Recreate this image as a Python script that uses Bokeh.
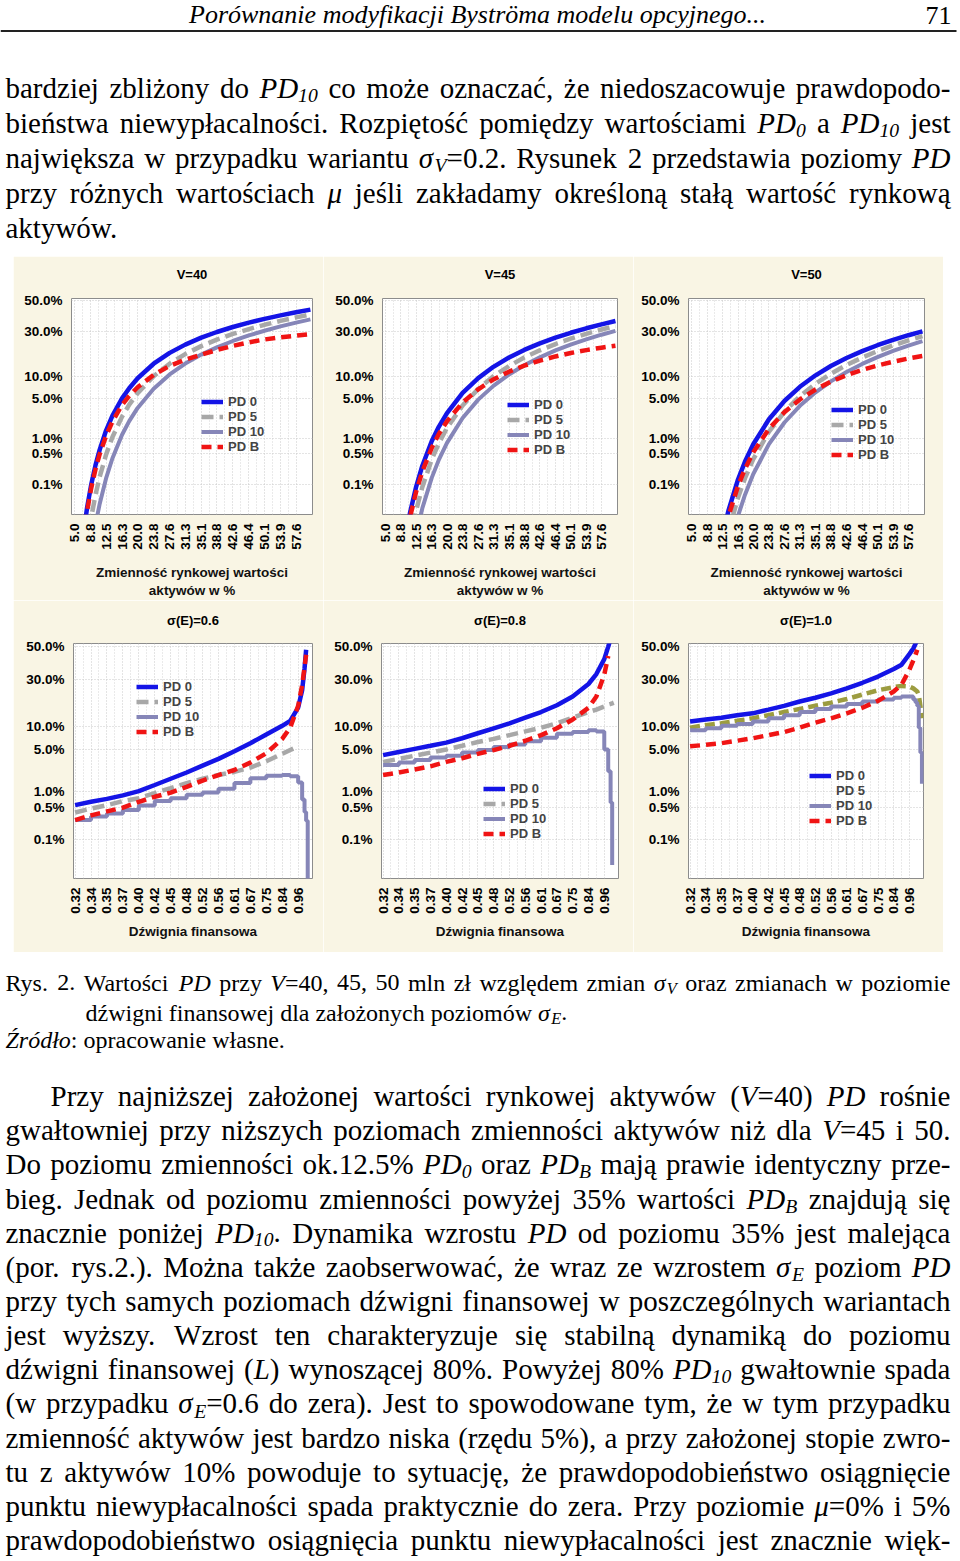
import math
import re
from statistics import NormalDist

from bokeh.plotting import figure
from bokeh.layouts import column, row
from bokeh.models import Range1d, FixedTicker, Legend, LegendItem, Spacer, LinearAxis
from bokeh.embed import file_html
from bokeh.resources import INLINE
from bokeh.core.properties import value

# ------------------------------------------------------------------ data
# upper panels: PD (%) versus asset volatility (%)
vol = [7, 8, 9, 10, 11, 12.5, 14, 16.3, 18, 20, 23.8, 27.6, 31.3, 35.1, 38.8,
       42.6, 46.4, 50.1, 53.9, 57.6, 61]
vol_ticks = [5.0, 8.8, 12.5, 16.3, 20.0, 23.8, 27.6, 31.3, 35.1, 38.8, 42.6,
             46.4, 50.1, 53.9, 57.6]
vol_tick_labels = ["5.0", "8.8", "12.5", "16.3", "20.0", "23.8", "27.6", "31.3",
                   "35.1", "38.8", "42.6", "46.4", "50.1", "53.9", "57.6"]

pd0_v40 = [0.0033, 0.0246, 0.10, 0.28, 0.605, 1.43, 2.60, 4.96, 6.98, 9.51, 14.32,
           18.84, 22.81, 26.50, 29.70, 32.67, 35.35, 37.75, 39.97, 42.0, 43.76]
pd5_v40 = [0.0001, 0.002, 0.0134, 0.054, 0.152, 0.474, 1.07, 2.53, 3.97, 5.94, 10.10,
           14.34, 18.30, 22.06, 25.40, 28.57, 31.44, 34.02, 36.45, 38.67, 40.55]
pd10_v40 = [0.00001, 0.0001, 0.0013, 0.0082, 0.0316, 0.138, 0.392, 1.19, 2.11, 3.52,
            6.86, 10.64, 14.37, 18.06, 21.45, 24.70, 27.73, 30.43, 33.03, 35.38, 37.41]
pdb_v40 = [0.0027, 0.020, 0.082, 0.227, 0.49, 1.13, 2.07, 3.93, 5.40, 7.20, 10.5,
           13.5, 15.9, 18.0, 20.2, 22.2, 24.0, 25.5, 26.7, 27.6, 28.4]

pd0_v45 = [0.00001, 0.00004, 0.0006, 0.0041, 0.0177, 0.0874, 0.272, 0.90, 1.67, 2.90,
           5.97, 9.55, 13.18, 16.83, 20.21, 23.45, 26.50, 29.25, 31.89, 34.29, 36.35]
pd5_v45 = [0.00001, 0.00001, 0.00004, 0.00045, 0.0028, 0.0208, 0.0854, 0.376, 0.81,
           1.60, 3.85, 6.82, 10.06, 13.48, 16.78, 20.02, 23.09, 25.92, 28.66, 31.15, 33.32]
pd10_v45 = [0.00001, 0.00001, 0.00001, 0.00004, 0.00037, 0.0042, 0.0238, 0.144, 0.366,
            0.83, 2.40, 4.75, 7.52, 10.64, 13.74, 16.90, 19.96, 22.80, 25.58, 28.15, 30.40]
pdb_v45 = [0.00001, 0.00003, 0.0004, 0.0031, 0.0133, 0.0653, 0.202, 0.66, 1.23, 2.11,
           4.28, 6.73, 9.16, 11.51, 13.61, 15.55, 17.27, 18.77, 20.12, 21.29, 22.24]

pd0_v50 = [0.00001, 0.00001, 0.00001, 0.00002, 0.0003, 0.0036, 0.0208, 0.130, 0.336,
           0.776, 2.28, 4.57, 7.30, 10.37, 13.46, 16.60, 19.65, 22.50, 25.29, 27.86, 30.11]
pd5_v50 = [0.00001, 0.00001, 0.00001, 0.00001, 0.00002, 0.0006, 0.0051, 0.0454, 0.140,
           0.379, 1.36, 3.08, 5.33, 8.04, 10.86, 13.84, 16.80, 19.62, 22.41, 25.02, 27.32]
pd10_v50 = [0.00001, 0.00001, 0.00001, 0.00001, 0.00001, 0.0001, 0.0011, 0.0145, 0.0545,
            0.175, 0.78, 2.02, 3.81, 6.11, 8.65, 11.41, 14.24, 16.98, 19.74, 22.34, 24.67]
pdb_v50 = [0.00001, 0.00001, 0.00001, 0.00001, 0.0002, 0.0025, 0.0145, 0.090, 0.231,
           0.53, 1.54, 3.03, 4.79, 6.69, 8.55, 10.39, 12.11, 13.65, 15.10, 16.39, 17.46]

# lower panels: PD (%) versus financial leverage (category position)
lev_ticks = ["0.32", "0.34", "0.35", "0.37", "0.40", "0.42", "0.45", "0.48", "0.52",
             "0.56", "0.61", "0.67", "0.75", "0.84", "0.96"]
lev_pos = [0, 1, 2, 3, 4, 5, 6, 7, 8, 9, 10, 11, 12, 13, 13.5, 14, 14.25, 14.4, 14.5,
           14.6, 14.7, 14.8]

pd0_e06 = [0.55, 0.64, 0.73, 0.85, 1.02, 1.32, 1.70, 2.17, 2.81, 3.59, 4.65, 6.06, 7.93,
           10.2, 11.7, 16.4, 24.2, 36.3, 48.0, None, None, None]
pd5_e06 = [0.39, 0.47, 0.55, 0.66, 0.75, 0.94, 1.16, 1.43, 1.70, 1.97, 2.22, 2.62, 3.29,
           4.27, 4.85, 5.48, None, None, None, None, None, None]
pd10_e06 = [0.27, 0.32, 0.37, 0.44, 0.54, 0.66, 0.75, 0.87, 0.96, 1.13, 1.43, 1.74, 1.92,
            1.97, 1.88, 1.46, 0.71, 0.40, 0.26, 0.003, None, None]
pdb_e06 = [0.27, 0.34, 0.41, 0.49, 0.64, 0.80, 0.96, 1.22, 1.58, 1.97, 2.39, 3.14, 4.36,
           6.94, 9.68, 17.1, 26.8, 37.0, 44.8, None, None, None]

pd0_e08 = [4.09, 4.55, 5.05, 5.59, 6.18, 7.08, 8.23, 9.51, 10.93, 12.71, 14.69, 17.36,
           21.19, 27.43, 33.0, 42.07, 50.0, 55.0, None, None, None, None]
pd5_e08 = [3.22, 3.59, 4.01, 4.46, 4.95, 5.59, 6.30, 6.94, 7.78, 8.69, 9.68, 10.93, 12.71,
           14.69, 15.62, 16.85, 17.62, 17.9, 18.14, 18.41, None, None]
pd10_e08 = [2.87, 3.14, 3.44, 3.75, 4.01, 4.46, 4.85, 5.37, 5.82, 6.43, 7.21, 8.08, 8.53,
            9.01, 8.69, 4.95, 2.28, 0.62, 0.023, None, None, None]
pdb_e08 = [1.97, 2.17, 2.44, 2.74, 3.22, 3.67, 4.27, 4.85, 5.59, 6.55, 7.78, 9.51, 12.1,
           16.35, 21.19, 32.64, 44.0, None, None, None, None, None]

pd0_e10 = [11.51, 12.1, 12.71, 13.57, 14.23, 15.62, 17.11, 18.94, 20.61, 22.66, 25.14,
           28.1, 31.56, 35.94, 38.59, 45.2, 48.8, 52.0, 54.0, None, None, None]
pd5_e10 = [9.68, 10.38, 10.93, 11.7, 12.51, 13.57, 14.69, 15.87, 17.11, 18.41, 20.05,
           22.06, 24.2, 25.78, 26.43, 26.11, 25.14, 24.2, 23.58, 21.8, 17.1, 12.5]
pd10_e10 = [9.01, 9.51, 10.2, 10.75, 11.51, 12.51, 13.57, 14.69, 15.87, 16.85, 17.88,
            18.94, 19.77, 20.61, 21.19, 21.19, 19.77, 18.5, 17.11, 9.68, 4.46, 1.39]
pdb_e10 = [5.48, 5.76, 6.06, 6.55, 7.08, 7.78, 8.53, 9.68, 11.12, 12.51, 14.23, 16.35,
           19.22, 23.58, 27.09, 35.57, 41.3, 45.0, 48.0, None, None, None]

y_tick_pct = [0.1, 0.5, 1.0, 5.0, 10.0, 30.0, 50.0]
y_tick_labels = ["0.1%", "0.5%", "1.0%", "5.0%", "10.0%", "30.0%", "50.0%"]
series_names = ["PD 0", "PD 5", "PD 10", "PD B"]

# ------------------------------------------------------------------ text
header_title = "Porównanie modyfikacji Byströma modelu opcyjnego..."
page_number = "71"
para1 = [
    "bardziej zbliżony do *PD*_10_ co może oznaczać, że niedoszacowuje prawdopodo-",
    "bieństwa niewypłacalności. Rozpiętość pomiędzy wartościami *PD*_0_ a *PD*_10_ jest",
    "największa w przypadku wariantu *σ*_V_=0.2. Rysunek 2 przedstawia poziomy *PD*",
    "przy różnych wartościach *μ* jeśli zakładamy określoną stałą wartość rynkową",
    "aktywów.",
]
caption = [
    "Rys. 2. Wartości *PD* przy *V*=40, 45, 50 mln zł względem zmian *σ*_V_ oraz zmianach w poziomie",
    "dźwigni finansowej dla założonych poziomów *σ*_E_.",
    "*Źródło*: opracowanie własne.",
]
para2 = [
    "Przy najniższej założonej wartości rynkowej aktywów (*V*=40) *PD* rośnie",
    "gwałtowniej przy niższych poziomach zmienności aktywów niż dla *V*=45 i 50.",
    "Do poziomu zmienności ok.12.5% *PD*_0_ oraz *PD*_B_ mają prawie identyczny prze-",
    "bieg. Jednak od poziomu zmienności powyżej 35% wartości *PD*_B_ znajdują się",
    "znacznie poniżej *PD*_10_. Dynamika wzrostu *PD* od poziomu 35% jest malejąca",
    "(por. rys.2.). Można także zaobserwować, że wraz ze wzrostem *σ*_E_ poziom *PD*",
    "przy tych samych poziomach dźwigni finansowej w poszczególnych wariantach",
    "jest wyższy. Wzrost ten charakteryzuje się stabilną dynamiką do poziomu",
    "dźwigni finansowej (*L*) wynoszącej 80%. Powyżej 80% *PD*_10_ gwałtownie spada",
    "(w przypadku *σ*_E_=0.6 do zera). Jest to spowodowane tym, że w tym przypadku",
    "zmienność aktywów jest bardzo niska (rzędu 5%), a przy założonej stopie zwro-",
    "tu z aktywów 10% powoduje to sytuację, że prawdopodobieństwo osiągnięcie",
    "punktu niewypłacalności spada praktycznie do zera. Przy poziomie *μ*=0% i 5%",
    "prawdopodobieństwo osiągnięcia punktu niewypłacalności jest znacznie więk-",
]

# ------------------------------------------------------------------ styles
BEIGE = "#f9f5e4"
BLUE = "#1414e6"
GRAY = "#a8a8a8"
LAV = "#8686b8"
RED = "#f01414"
OLIVE = "#9c9c40"
SANS = "Liberation Sans"
SERIF = "Liberation Serif"
BASE_K = 0.36   # renderer places "alphabetic" text this many em lower; compensate

ND = NormalDist()


def probit(vals):
    return [ND.inv_cdf(v / 100.0) if v is not None else float("nan") for v in vals]


def make_panel(title, xs, series, lower, geom, legend_xy, olive=False):
    w, bl, br = geom
    if lower:
        h, bt, bb = 352, 43, 74
        xr, yr = Range1d(-0.1, 14.9), Range1d(-3.72, 0.05)
    else:
        h, bt, bb = 344, 42, 82
        xr, yr = Range1d(4.3, 61.5), Range1d(-3.6, 0.03)
    p = figure(width=w, height=h, x_range=xr, y_range=yr, toolbar_location=None,
               title_location=None,
               output_backend="svg", min_border_left=bl, min_border_right=br,
               min_border_top=bt, min_border_bottom=bb,
               background_fill_color="white", border_fill_color=BEIGE)
    p.outline_line_color = "#8c8c8c"
    p.outline_line_width = 1

    # panel title as the label of an empty axis above the frame
    tax = LinearAxis(axis_label=title, ticker=FixedTicker(ticks=[]),
                     axis_line_color=None, major_tick_line_color=None,
                     minor_tick_line_color=None, major_tick_out=0, minor_tick_out=0,
                     major_label_standoff=0, major_label_text_font_size="0px",
                     axis_label_standoff=16 if lower else 17,
                     axis_label_text_font=SANS, axis_label_text_font_size="13px",
                     axis_label_text_font_style="bold", axis_label_text_color="black")
    p.add_layout(tax, "above")

    # y axis (normal-probability scale)
    yt = [ND.inv_cdf(v / 100.0) for v in y_tick_pct]
    xax = p.below[0]
    yax = p.left[0]
    yax.ticker = FixedTicker(ticks=yt)
    yax.major_label_overrides = {t: l for t, l in zip(yt, y_tick_labels)}
    # x axis
    if lower:
        xt = list(range(len(lev_ticks)))
        xl = lev_ticks
        xax.axis_label = "Dźwignia finansowa"
    else:
        xt = vol_ticks
        xl = vol_tick_labels
        xax.axis_label = "Zmienność rynkowej wartości\naktywów w %"
    minor = [(a + b) / 2.0 for a, b in zip(xt[:-1], xt[1:])]
    xax.ticker = FixedTicker(ticks=xt, minor_ticks=minor)
    xax.major_label_overrides = {t: l for t, l in zip(xt, xl)}
    xax.major_label_orientation = math.pi / 2

    for ax in (xax, yax):
        ax.axis_line_color = None
        ax.major_tick_line_color = None
        ax.minor_tick_line_color = None
        ax.major_label_text_font = SANS
        ax.major_label_text_font_style = "bold"
        ax.major_label_text_color = "black"
    yax.major_label_text_font_size = "13.5px"
    yax.major_label_standoff = 3
    xax.major_label_text_font_size = "13.5px"
    xax.major_label_standoff = 3
    xax.axis_label_text_font = SANS
    xax.axis_label_text_font_size = "13.5px"
    xax.axis_label_text_font_style = "bold"
    xax.axis_label_text_color = "#111111"
    xax.axis_label_standoff = 7 if lower else 12

    # grid
    p.xgrid.grid_line_color = "#c8c8c8"
    p.xgrid.grid_line_dash = "1 2"
    p.xgrid.minor_grid_line_color = "#d4d4d4"
    p.xgrid.minor_grid_line_dash = "1 2"
    p.xgrid.ticker = xax.ticker
    p.ygrid.grid_line_color = "#c8c8c8"
    p.ygrid.grid_line_dash = "1 2"
    p.ygrid.ticker = yax.ticker

    p0, p5, p10, pb = series
    r0 = p.line(xs, probit(p0), line_color=BLUE, line_width=4.5)
    if olive:
        r5 = p.line(xs, probit(p5), line_color=OLIVE, line_width=4.5, line_dash="10 5")
        r5_leg = p.line([], [], line_color="#cfcfcf", line_width=1.5)
    else:
        r5 = p.line(xs, probit(p5), line_color=GRAY, line_width=4.5, line_dash="12 6")
        r5_leg = r5
    if lower:
        r10 = p.step(xs, probit(p10), mode="after", line_color=LAV, line_width=4)
    else:
        r10 = p.line(xs, probit(p10), line_color=LAV, line_width=4)
    rb = p.line(xs, probit(pb), line_color=RED, line_width=4.5, line_dash="10 6")

    legend = Legend(items=[LegendItem(label=n, renderers=[r])
                           for n, r in zip(series_names, [r0, r5_leg, r10, rb])],
                    location=legend_xy, orientation="vertical",
                    background_fill_alpha=0, border_line_color=None,
                    label_text_font=SANS, label_text_font_style="bold",
                    label_text_font_size="13px", glyph_width=22, glyph_height=15,
                    label_height=15, label_standoff=5, spacing=0, padding=0, margin=0)
    p.add_layout(legend)
    return p


# ------------------------------------------------------------------ text helpers
RW = {" ": 250, ".": 250, ",": 250, ":": 278, ";": 278, "-": 333, "(": 333, ")": 333,
      "%": 833, "=": 564, "'": 180, "σ": 549, "μ": 500}
IW = dict(RW)
IW.update({"=": 675, ":": 333})
for c in "0123456789":
    RW[c] = 500
    IW[c] = 500
RW.update(dict(zip("abcdefghijklmnopqrstuvwxyz",
                   [444, 500, 444, 500, 444, 333, 500, 500, 278, 278, 500, 278, 778,
                    500, 500, 500, 500, 333, 389, 278, 500, 500, 722, 500, 500, 444])))
RW.update(dict(zip("ABCDEFGHIJKLMNOPQRSTUVWXYZ",
                   [722, 667, 667, 722, 611, 556, 722, 722, 333, 389, 722, 611, 889,
                    722, 722, 556, 722, 667, 556, 611, 722, 722, 944, 722, 722, 611])))
IW.update(dict(zip("abcdefghijklmnopqrstuvwxyz",
                   [500, 500, 444, 500, 444, 278, 500, 500, 278, 278, 444, 278, 722,
                    500, 500, 500, 500, 389, 389, 278, 500, 444, 667, 444, 444, 389])))
IW.update(dict(zip("ABCDEFGHIJKLMNOPQRSTUVWXYZ",
                   [611, 611, 667, 722, 611, 611, 722, 722, 333, 444, 667, 556, 833,
                    667, 722, 611, 722, 611, 500, 556, 722, 611, 833, 611, 556, 556])))
ACC = {"ą": "a", "ć": "c", "ę": "e", "ń": "n", "ó": "o", "ś": "s", "ź": "z", "ż": "z",
       "Ź": "Z", "Ż": "Z", "Ś": "S", "ö": "o"}
for k, b in ACC.items():
    RW[k] = RW[b]
    IW[k] = IW[b]
RW["ł"] = 278
IW["ł"] = 278
SUB = 0.68


def parse(word):
    segs = []
    for m in re.finditer(r"\*([^*]+)\*|_([^_]+)_|([^*_]+)", word):
        if m.group(1):
            segs.append((m.group(1), "i"))
        elif m.group(2):
            segs.append((m.group(2), "s"))
        else:
            segs.append((m.group(3), "n"))
    return segs


def seg_w(t, s, size):
    tab = IW if s in ("i", "s") else RW
    fs = size * SUB if s == "s" else size
    return sum(tab.get(ch, 500) for ch in t) * fs / 1000.0


def draw_lines(p, lines, size):
    acc = {"n": ([], [], []), "i": ([], [], []), "s": ([], [], [])}
    for txt, yb, x0, x1, just in lines:
        words = [parse(w) for w in txt.split(" ")]
        ws = [sum(seg_w(t, s, size) for t, s in w) for w in words]
        if just and len(words) > 1:
            gap = (x1 - x0 - sum(ws)) / (len(words) - 1)
        else:
            gap = 0.25 * size
        x = x0
        for w, wd in zip(words, ws):
            xx = x
            for t, s in w:
                a = acc[s]
                fs = size * SUB if s == "s" else size
                a[0].append(xx)
                a[1].append(yb + (0.13 * size if s == "s" else 0) - BASE_K * fs)
                a[2].append(t)
                xx += seg_w(t, s, size)
            x += wd + gap
    for s, (xs, ys, ts) in acc.items():
        if not ts:
            continue
        fs = size * SUB if s == "s" else size
        p.text(x=xs, y=ys, text=ts, text_font=value(SERIF),
               text_font_size=value(f"{fs:.1f}px"),
               text_font_style="normal" if s == "n" else "italic",
               text_align="left", text_baseline="alphabetic", text_color="black")


def text_fig(y0, y1):
    f = figure(width=960, height=int(y1 - y0), x_range=Range1d(0, 960),
               y_range=Range1d(y1, y0), toolbar_location=None, output_backend="svg",
               title_location=None,
               x_axis_type=None, y_axis_type=None, min_border=0)
    f.outline_line_color = None
    f.grid.visible = False
    return f


# ------------------------------------------------------------------ top text
top = text_fig(0, 256)
top.text(x=[477], y=[23.5 - BASE_K * 26], text=[header_title], text_font=value(SERIF),
         text_font_size=value("26px"), text_font_style="italic",
         text_align="center", text_baseline="alphabetic", text_color="black")
top.text(x=[951], y=[24 - BASE_K * 26], text=[page_number], text_font=value(SERIF),
         text_font_size=value("26px"), text_align="right", text_baseline="alphabetic",
         text_color="black")
top.segment(x0=[0], y0=[30.5], x1=[956], y1=[30.5], line_color="#222222", line_width=2)
lines1 = []
for i, t in enumerate(para1):
    lines1.append((t, 98 + 35 * i, 5, 950, i < len(para1) - 1))
draw_lines(top, lines1, 29)

# ------------------------------------------------------------------ chart grid
upper_geom = [(310, 58, 11), (310, 59, 16), (310, 55, 19)]
lower_geom = [(310, 60, 11), (310, 58, 15), (310, 55, 20)]

f1 = make_panel("V=40", vol, [pd0_v40, pd5_v40, pd10_v40, pdb_v40], False, upper_geom[0], (130, 60))
f2 = make_panel("V=45", vol, [pd0_v45, pd5_v45, pd10_v45, pdb_v45], False, upper_geom[1], (125, 57))
f3 = make_panel("V=50", vol, [pd0_v50, pd5_v50, pd10_v50, pdb_v50], False, upper_geom[2], (143, 52))
f4 = make_panel("σ(E)=0.6", lev_pos, [pd0_e06, pd5_e06, pd10_e06, pdb_e06], True, lower_geom[0], (63, 139))
f5 = make_panel("σ(E)=0.8", lev_pos, [pd0_e08, pd5_e08, pd10_e08, pdb_e08], True, lower_geom[1], (102, 37))
f6 = make_panel("σ(E)=1.0", lev_pos, [pd0_e10, pd5_e10, pd10_e10, pdb_e10], True, lower_geom[2], (121, 50), olive=True)

charts = column(row(f1, f2, f3), row(f4, f5, f6))
chart_row = row(Spacer(width=13, height=696), charts)

# ------------------------------------------------------------------ bottom text
bot = text_fig(952, 1561)
cap_lines = [
    (caption[0], 991, 5, 950, True),
    (caption[1], 1021, 85, 950, False),
    (caption[2], 1048, 5, 950, False),
]
draw_lines(bot, cap_lines, 24)
lines2 = []
for i, t in enumerate(para2):
    x0 = 50 if i == 0 else 5
    lines2.append((t, 1106 + 34.15 * i, x0, 950, True))
draw_lines(bot, lines2, 29)

page = column(top, chart_row, bot)
open("out.html", "w").write(file_html(page, INLINE))
